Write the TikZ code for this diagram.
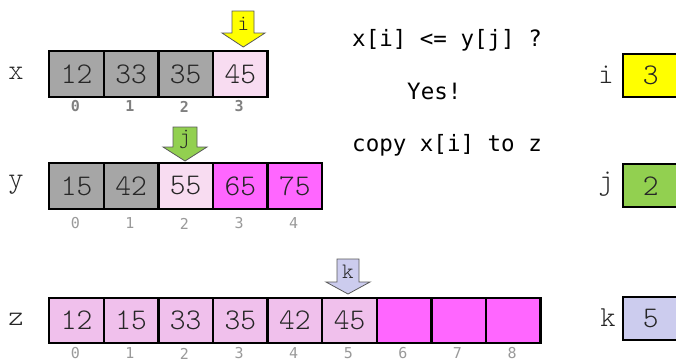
\documentclass[tikz,border=0pt]{standalone}
\usepackage{fontspec}
\setmainfont{Liberation Mono}
\newfontfamily\cmono{Latin Modern Mono Light}
\newfontfamily\dmono{DejaVu Sans Mono}
\definecolor{cgray}{HTML}{A6A6A6}
\definecolor{cpale}{HTML}{F8DCF1}
\definecolor{cfill}{HTML}{F0C0EC}
\definecolor{cmag}{HTML}{FF66FF}
\definecolor{cyel}{HTML}{FFFF00}
\definecolor{cgrn}{HTML}{92D050}
\definecolor{clav}{HTML}{CCCCEE}
\definecolor{cidx}{HTML}{9A9A9A}
\definecolor{cidxb}{HTML}{808080}
\begin{document}
\begin{tikzpicture}[x=1pt,y=-1pt,
  cell/.style={draw=black, line width=2.4pt, minimum width=54.6pt, minimum height=45.5pt,
    inner sep=0pt, anchor=north west, font=\cmono\fontsize{30}{30}\selectfont, text=black!85},
  rbox/.style={cell, minimum width=55pt, minimum height=43pt},
  idx/.style={font=\dmono\fontsize{15}{15}\selectfont, text=cidx, inner sep=0pt},
  idxb/.style={idx, font=\dmono\bfseries\fontsize{15}{15}\selectfont, text=cidxb},
  lab/.style={font=\cmono\fontsize{29}{29}\selectfont, text=black!85, inner sep=0pt},
  alab/.style={font=\cmono\fontsize{22}{22}\selectfont, text=black!85, inner sep=0pt},
  ptr/.style={draw=black!65, line width=0.8pt},
  mid/.style={font=\dmono\fontsize{22.5}{22.5}\selectfont, inner sep=0pt, anchor=base west}]
\useasboundingbox (0,0) rectangle (676,362);
\clip (0,0) rectangle (676,362);
\fill[white] (0,0) rectangle (676,362);

% row labels
\node[lab] (xl) at (16,73) {x};
\node[lab] (yl) at (16,185) {y};
\node[lab] (zl) at (16,319.5) {z};

% x row
\foreach \v/\c [count=\n from 0] in {12/cgray,33/cgray,35/cgray,45/cpale} {
  \node[cell, fill=\c] (x\n) at (48+\n*54.6, 50) {\v};
  \node[idxb] (xi\n) at (75.3+\n*54.6, 106.5) {\n};
}
% y row
\foreach \v/\c [count=\n from 0] in {15/cgray,42/cgray,55/cpale,65/cmag,75/cmag} {
  \node[cell, fill=\c] (y\n) at (48+\n*54.6, 162) {\v};
  \node[idx] (yi\n) at (75.3+\n*54.6, 223.5) {\n};
}
% z row
\foreach \v/\c [count=\n from 0] in {12/cfill,15/cfill,33/cfill,35/cfill,42/cfill,45/cfill,/cmag,/cmag,/cmag} {
  \node[cell, fill=\c] (z\n) at (48+\n*54.6, 296.5) {\v};
  \node[idx] (zi\n) at (75.3+\n*54.6, 353.5) {\n};
}

% pointers
\filldraw[ptr, fill=cyel] (232,11) -- (254,11) -- (254,33) -- (265,33) -- (243.3,47) -- (222,33) -- (232,33) -- cycle;
\node[alab] (ia) at (243.3,24) {i};
\filldraw[ptr, fill=cgrn] (173,127) -- (197,127) -- (197,147) -- (207,147) -- (185,161) -- (163,147) -- (173,147) -- cycle;
\node[alab] (ja) at (185,139) {j};
\filldraw[ptr, fill=clav] (337,259) -- (359,259) -- (359,282) -- (370,282) -- (348,294) -- (326,282) -- (337,282) -- cycle;
\node[alab] (ka) at (348,272) {k};

% middle text
\node[mid] (q) at (352,46) {x[i] <= y[j] ?};
\node[mid] (a) at (407,99) {Yes!};
\node[mid] (c) at (352,151.5) {copy x[i] to z};

% right side variables
\node[lab] (il) at (606,75) {i};
\node[rbox, fill=cyel] (ib) at (622,53) {3};
\node[lab] (jl) at (606,184) {j};
\node[rbox, fill=cgrn] (jb) at (622,163) {2};
\node[lab] (kl) at (608,318) {k};
\node[rbox, fill=clav] (kb) at (622,295.5) {5};
\end{tikzpicture}
\end{document}
